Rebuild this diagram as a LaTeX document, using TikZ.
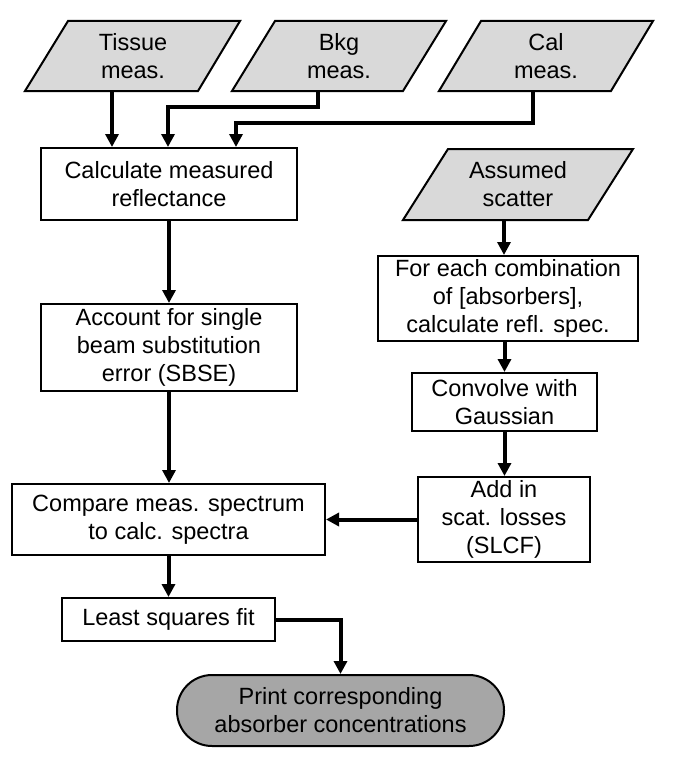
\documentclass[tikz,border=0pt]{standalone}
\usepackage{fontspec}
\setmainfont{Liberation Sans}
\usetikzlibrary{arrows.meta}
\definecolor{lightfill}{RGB}{217,217,217}
\definecolor{darkfill}{RGB}{166,166,166}
\tikzset{
  txt/.style={font=\fontsize{23.5}{28}\selectfont, align=center, inner sep=0pt},
  box/.style={txt, draw=black, line width=2pt, fill=white},
  parahold/.style={txt, minimum width=172pt, minimum height=70pt},
  parashape/.style={draw=black, line width=2pt, fill=lightfill, line join=miter},
  term/.style={txt, draw=black, line width=2pt, fill=darkfill, rounded corners=35pt},
  arr/.style={line width=4pt, -{Triangle[length=13pt,width=13pt]}},
}
\begin{document}
\begin{tikzpicture}[x=1pt,y=-1pt]
\useasboundingbox (0,0) rectangle (681,768);
% parallelogram shapes
\draw[parashape] (68,21) -- (240,21) -- (198,91) -- (25,91) -- cycle;
\draw[parashape] (275,21) -- (446,21) -- (403,91) -- (232,91) -- cycle;
\draw[parashape] (481,21) -- (653,21) -- (611,91) -- (439,91) -- cycle;
\draw[parashape] (448,149) -- (633,149) -- (588,220) -- (403,220) -- cycle;
% input nodes
\node[parahold] (tis) at (133,56) {Tissue\\meas.};
\node[parahold] (bkg) at (339,56) {Bkg\\meas.};
\node[parahold] (cal) at (546,56) {Cal\\meas.};
\node[parahold, minimum width=185pt, minimum height=71pt] (as) at (518,184.5) {Assumed\\scatter};
% process nodes
\node[box, minimum width=256pt, minimum height=72pt] (calc) at (169,184) {Calculate measured\\reflectance};
\node[box, minimum width=256pt, minimum height=87pt] (acc) at (169,347.5) {Account for single\\beam substitution\\error (SBSE)};
\node[box, minimum width=260pt, minimum height=85pt] (fe) at (508,298.5) {For each combination\\of [absorbers],\\calculate refl. spec.};
\node[box, minimum width=185pt, minimum height=58pt] (conv) at (504.5,402) {Convolve with\\Gaussian};
\node[box, minimum width=172pt, minimum height=85pt] (add) at (504,519.5) {Add in\\scat. losses\\(SLCF)};
\node[box, minimum width=313pt, minimum height=71pt] (comp) at (168.5,519.5) {Compare meas. spectrum\\to calc. spectra};
\node[box, minimum width=213pt, minimum height=43pt] (least) at (168.5,619.5) {Least squares fit};
\node[term, minimum width=327pt, minimum height=71pt] (print) at (340.5,710.5) {Print corresponding\\absorber concentrations};
% connectors
\draw[arr] ([xshift=-21pt]tis.south) -- ([xshift=-21pt]tis.south |- calc.north);
\draw[arr] ([xshift=-21pt]bkg.south) -- ++(0,16) -| ([xshift=-1pt]calc.north);
\draw[arr] ([xshift=-13pt]cal.south) -- ++(0,32) -| ([xshift=67pt]calc.north);
\draw[arr] (calc.south) -- (acc.north);
\draw[arr] (acc.south) -- (acc.south |- comp.north);
\draw[arr] (comp.south) -- (least.north);
\draw[arr] (least.east) -| (print.north);
\draw[arr] ([xshift=-14pt]as.south) -- ([xshift=-14pt]as.south |- fe.north);
\draw[arr] (conv.north |- fe.south) -- (conv.north);
\draw[arr] (conv.south) -- (conv.south |- add.north);
\draw[arr] (add.west) -- (comp.east);
\end{tikzpicture}
\end{document}
